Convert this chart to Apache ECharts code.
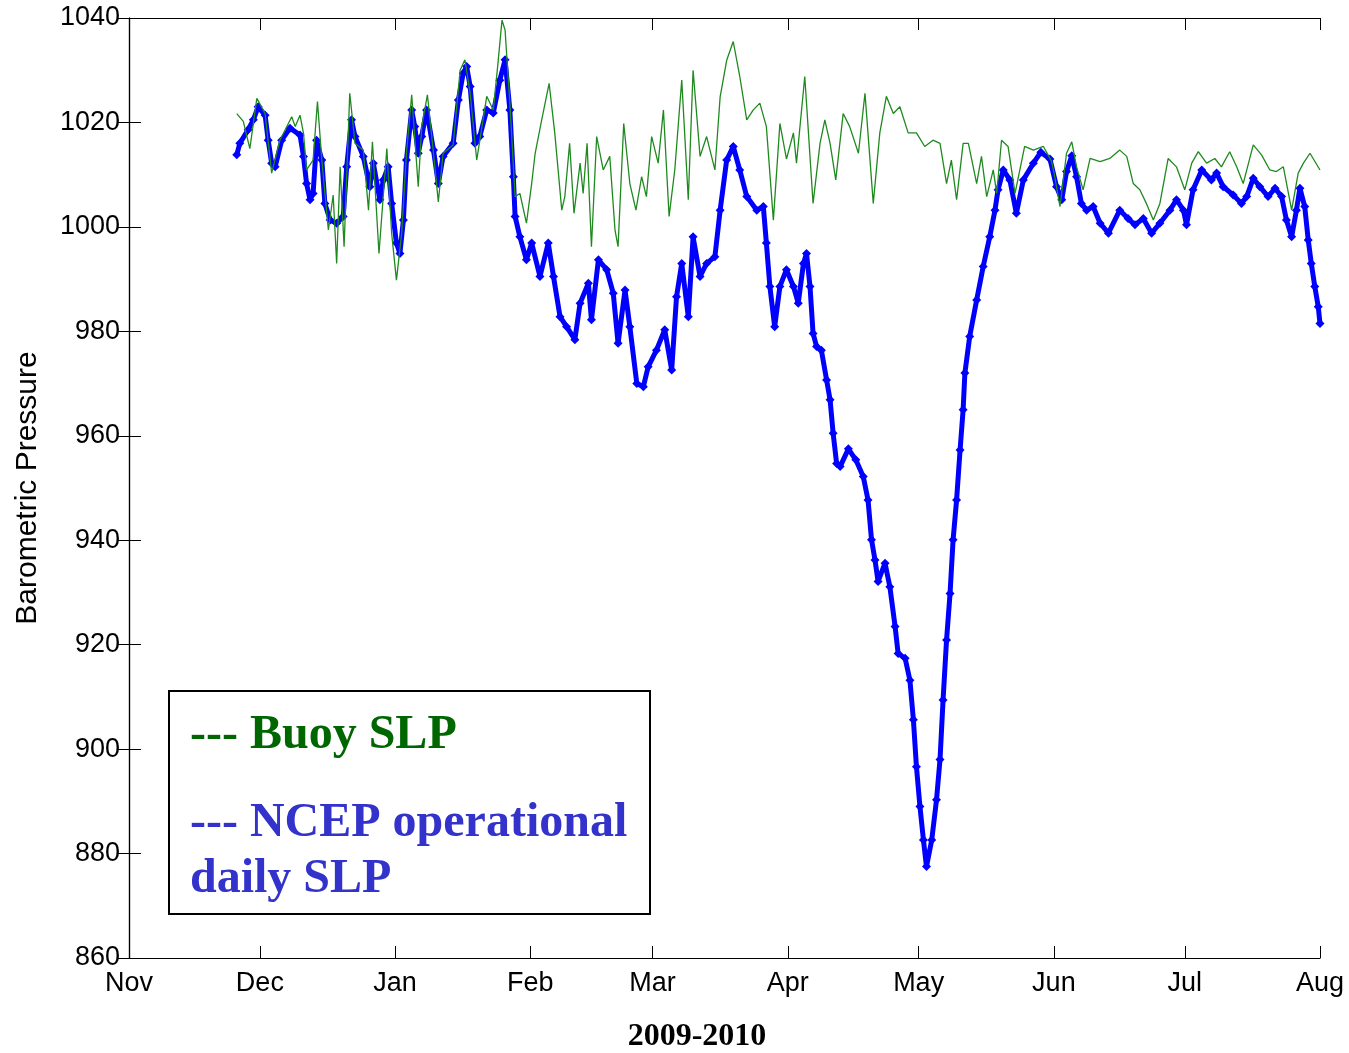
<!DOCTYPE html>
<html>
<head>
<meta charset="utf-8">
<script src="https://cdn.jsdelivr.net/npm/echarts@6/dist/echarts.min.js"></script>
<style>
html,body{margin:0;padding:0;background:#fff;overflow:hidden;}
#chart{width:1349px;height:1053px;}
</style>
</head>
<body>
<div id="chart"></div>
<script>
// Days since 1 Nov 2009
const monthNames = ['Nov','Dec','Jan','Feb','Mar','Apr','May','Jun','Jul','Aug'];
const monthStarts = [0,30,61,92,120,151,181,212,242,273];
const yTicks = [860,880,900,920,940,960,980,1000,1020,1040];

// NCEP operational daily SLP
const ncepDays = [24.7,25.4,27.3,28.5,29.6,31.2,31.9,32.7,33.5,35.0,36.9,39.2,40.0,40.7,41.5,42.2,43.0,44.2,44.9,46.1,47.6,49.1,49.9,51.0,51.8,53.7,55.2,56.0,57.5,58.3,59.4,60.2,61.3,62.1,62.9,63.6,64.8,65.5,66.3,67.1,68.2,69.8,70.9,72.0,74.3,75.5,76.6,77.4,78.2,79.3,80.4,82.0,83.5,85.0,86.2,87.3,88.1,88.5,89.6,91.1,92.3,94.2,96.1,97.3,98.8,100.3,102.2,103.4,105.3,106.0,107.6,109.5,111.0,112.1,113.7,114.8,116.4,117.9,119.0,120.9,122.8,124.4,125.5,126.7,128.2,129.3,130.9,132.4,134.3,135.5,137.0,138.5,140.0,141.6,143.9,145.4,146.1,146.9,148.0,149.2,150.7,152.3,153.4,154.6,155.3,156.1,156.8,157.6,158.7,159.9,160.7,161.4,162.2,163.0,164.9,166.6,168.3,169.4,170.2,171.0,171.7,173.3,174.4,175.6,176.3,177.9,179.0,179.8,180.5,181.3,182.1,182.8,184.0,185.1,185.9,186.6,187.4,188.2,188.9,189.7,190.5,191.2,191.6,192.7,194.3,195.8,197.3,198.5,199.2,200.4,201.9,203.4,205.0,207.3,209.0,211.1,212.6,213.8,214.9,216.1,217.2,218.3,219.5,221.0,222.6,224.5,227.1,229.0,230.6,232.5,234.4,236.3,238.6,240.1,241.7,242.4,243.9,245.9,248.1,249.3,250.8,253.1,255.0,256.2,257.7,259.2,261.1,262.7,264.2,265.3,266.5,267.6,268.4,269.5,270.3,271.0,271.8,272.6,273.0];
const ncepSLP = [1013.8,1016.0,1018.6,1020.5,1023.0,1021.4,1016.6,1012.2,1011.5,1016.6,1018.9,1017.6,1013.5,1008.3,1005.2,1006.4,1016.6,1012.8,1004.5,1001.3,1000.7,1002.0,1011.5,1020.5,1017.3,1013.5,1007.7,1012.2,1005.2,1009.0,1011.5,1004.5,996.9,994.9,1001.3,1012.8,1022.4,1019.2,1014.1,1017.3,1022.4,1014.7,1008.3,1013.5,1016.0,1024.3,1029.4,1030.7,1026.9,1016.0,1017.3,1022.4,1021.8,1028.1,1032.0,1022.4,1009.6,1002.0,998.1,993.7,996.9,990.5,996.9,990.5,982.8,980.9,978.4,985.4,989.2,982.2,993.7,991.8,987.3,977.7,987.9,980.9,970.0,969.4,973.2,976.4,980.3,972.6,986.6,993.0,982.8,998.1,990.5,993.0,994.3,1003.2,1012.8,1015.4,1010.9,1005.8,1003.2,1003.9,996.9,988.6,980.9,988.6,991.8,988.6,985.4,993.0,994.9,988.6,979.6,977.1,976.4,970.7,966.9,960.5,954.7,954.1,957.5,955.4,952.2,947.7,940.1,936.2,932.1,935.6,931.1,923.5,918.3,917.4,913.2,905.6,896.6,889.0,882.6,877.5,882.6,890.3,898.0,909.4,920.9,929.8,940.1,947.7,957.3,965.0,972.0,979.0,986.0,992.4,998.1,1003.2,1007.1,1010.9,1009.0,1002.6,1009.0,1012.2,1014.3,1013.0,1007.7,1005.2,1010.6,1013.6,1009.6,1004.5,1003.2,1003.9,1000.7,998.8,1003.2,1001.6,1000.4,1001.6,998.8,1000.7,1003.2,1005.2,1003.2,1000.4,1007.1,1010.9,1009.0,1010.3,1007.7,1006.1,1004.5,1005.8,1009.3,1007.7,1005.8,1007.4,1005.8,1001.3,998.1,1003.2,1007.4,1003.9,997.5,993.0,988.6,984.7,981.5];

// Buoy SLP
const buoyDays = [24.7,26.2,27.7,29.3,31.2,32.7,34.6,37.3,38.1,39.2,40.0,40.7,42.2,43.2,44.2,45.7,46.8,47.6,48.4,49.3,50.6,51.8,53.7,54.9,55.8,57.3,59.1,60.2,61.3,62.5,63.6,64.8,66.3,67.1,68.4,69.8,70.9,72.0,74.3,75.9,77.0,78.2,79.7,82.0,83.5,84.5,85.5,86.2,87.3,88.5,89.6,91.1,92.3,93.1,94.6,96.3,97.6,99.2,99.9,101.0,102.0,103.4,104.1,105.0,106.0,107.2,108.7,110.2,111.4,112.1,113.4,114.8,116.2,117.5,118.6,119.8,121.3,122.5,123.8,125.1,126.7,128.2,129.3,130.9,132.4,134.3,135.5,137.0,138.5,140.0,141.6,143.1,144.6,146.1,147.7,149.2,150.7,152.3,153.0,154.9,156.8,158.4,159.5,160.7,162.0,163.7,165.2,167.2,168.7,170.6,172.1,173.6,175.2,176.7,178.6,180.5,182.4,184.3,185.9,187.4,188.5,189.7,191.2,192.4,194.3,195.4,196.6,198.1,198.9,200.0,201.5,203.1,205.3,207.3,209.6,211.5,212.2,213.4,214.9,216.1,217.2,218.7,220.3,222.6,224.8,227.1,228.7,230.2,231.7,233.2,234.8,236.3,238.2,240.1,242.0,243.6,245.1,247.0,248.9,250.4,252.3,253.9,255.4,257.7,259.6,261.5,263.0,264.6,266.5,268.0,269.2,270.7,273.0];
const buoySLP = [1021.7,1020.2,1015.0,1024.6,1021.7,1010.3,1016.6,1021.1,1019.2,1021.4,1017.9,1010.9,1012.8,1024.0,1012.8,999.4,1006.1,993.0,1011.5,996.2,1025.6,1016.0,1014.7,1003.2,1016.3,994.9,1015.0,998.8,989.8,998.8,1014.1,1025.3,1007.7,1019.2,1025.3,1014.1,1004.8,1014.1,1015.7,1030.0,1032.0,1025.6,1012.8,1025.0,1022.4,1030.7,1039.6,1037.7,1023.7,1005.8,1006.4,1000.7,1008.3,1014.1,1020.5,1027.5,1017.9,1003.2,1005.8,1016.0,1002.6,1012.2,1006.4,1016.0,996.2,1017.3,1010.9,1013.5,999.4,996.2,1019.8,1008.3,1003.2,1009.6,1005.8,1017.3,1012.2,1022.4,1002.0,1010.9,1028.1,1005.2,1030.0,1013.5,1017.3,1010.9,1024.9,1031.9,1035.5,1028.8,1020.5,1022.4,1023.7,1019.2,1001.3,1019.8,1013.0,1018.0,1012.2,1028.8,1004.5,1016.0,1020.5,1016.0,1009.0,1021.7,1019.2,1014.1,1025.6,1004.5,1018.0,1025.0,1021.7,1023.0,1018.0,1018.0,1015.4,1016.6,1016.0,1008.3,1012.8,1005.2,1016.0,1016.0,1008.3,1013.5,1005.8,1010.9,1006.4,1016.6,1015.4,1006.4,1015.4,1014.7,1015.4,1012.5,1009.6,1003.9,1014.1,1016.3,1011.5,1007.1,1013.1,1012.5,1013.1,1014.7,1013.5,1008.3,1007.1,1004.5,1001.3,1004.5,1013.1,1011.5,1007.1,1012.2,1014.4,1012.2,1013.1,1011.5,1014.4,1011.5,1008.3,1015.7,1013.8,1010.9,1010.6,1011.5,1003.2,1010.3,1012.2,1014.1,1010.9];

const ncepData = ncepDays.map((d,i)=>[d, ncepSLP[i]]);
const buoyData = buoyDays.map((d,i)=>[d, buoySLP[i]]);

const chart = echarts.init(document.getElementById('chart'), null, {renderer:'canvas'});
const axisFont = {fontFamily:'Liberation Sans, Arial, sans-serif', fontSize:27, color:'#000'};
const monthFmt = v => { const i = monthStarts.indexOf(v); return i >= 0 ? monthNames[i] : ''; };
const serifBold = 'bold 48px "Liberation Serif", "Times New Roman", serif';

chart.setOption({
  animation:false,
  backgroundColor:'#fff',
  grid:{left:129, right:29, top:18, bottom:95, containLabel:false, outerBoundsMode:'none'},
  xAxis:[{
    type:'value', min:0, max:273, position:'bottom',
    axisLine:{show:true, lineStyle:{color:'#000', width:1.2}},
    axisTick:{show:true, inside:true, length:12, customValues:monthStarts, lineStyle:{color:'#000'}},
    axisLabel:{show:true, customValues:monthStarts, formatter:monthFmt, margin:12, ...axisFont},
    splitLine:{show:false}
  },{
    type:'value', min:0, max:273, position:'top',
    axisLine:{show:true, lineStyle:{color:'#000', width:1.2}},
    axisTick:{show:true, inside:true, length:12, customValues:monthStarts, lineStyle:{color:'#000'}},
    axisLabel:{show:false},
    splitLine:{show:false}
  }],
  yAxis:[{
    type:'value', min:860, max:1040, interval:20, position:'left',
    name:'Barometric Pressure', nameLocation:'middle', nameGap:86, nameRotate:90,
    nameTextStyle:{fontFamily:'Liberation Sans, Arial, sans-serif', fontSize:30, color:'#000'},
    axisLine:{show:true, lineStyle:{color:'#000', width:1.2}},
    axisTick:{show:true, inside:true, length:12, lineStyle:{color:'#000'}},
    axisLabel:{show:true, margin:9, formatter:v => String(v), ...axisFont},
    splitLine:{show:false}
  },{
    type:'value', min:860, max:1040, interval:20, position:'right',
    axisLine:{show:true, lineStyle:{color:'#000', width:1.2}},
    axisTick:{show:true, inside:true, length:12, lineStyle:{color:'#000'}},
    axisLabel:{show:false},
    splitLine:{show:false}
  }],
  series:[{
    name:'NCEP operational daily SLP', type:'line', data:ncepData,
    xAxisIndex:0, yAxisIndex:0,
    symbol:'diamond', symbolSize:9, showSymbol:true,
    itemStyle:{color:'#0000FF'},
    lineStyle:{color:'#0000FF', width:5},
    z:2
  },{
    name:'Buoy SLP', type:'line', data:buoyData,
    xAxisIndex:0, yAxisIndex:0,
    showSymbol:false, symbol:'none',
    lineStyle:{color:'#1E8A1E', width:1.3},
    z:3
  }],
  graphic:[{
    type:'rect', left:168, top:690, z:10,
    shape:{width:481, height:223},
    style:{fill:'#fff', stroke:'#000', lineWidth:2}
  },{
    type:'text', left:190, top:712, z:11,
    style:{text:'--- Buoy SLP', fill:'#006600', font:serifBold}
  },{
    type:'text', left:190, top:800, z:11,
    style:{text:'--- NCEP operational', fill:'#3333CC', font:serifBold}
  },{
    type:'text', left:190, top:856, z:11,
    style:{text:'daily SLP', fill:'#3333CC', font:serifBold}
  },{
    type:'text', x:697, y:1037, z:11,
    style:{text:'2009-2010', fill:'#000', align:'center', verticalAlign:'middle',
           font:'bold 32px "Liberation Serif", "Times New Roman", serif'}
  }]
});
</script>
</body>
</html>
